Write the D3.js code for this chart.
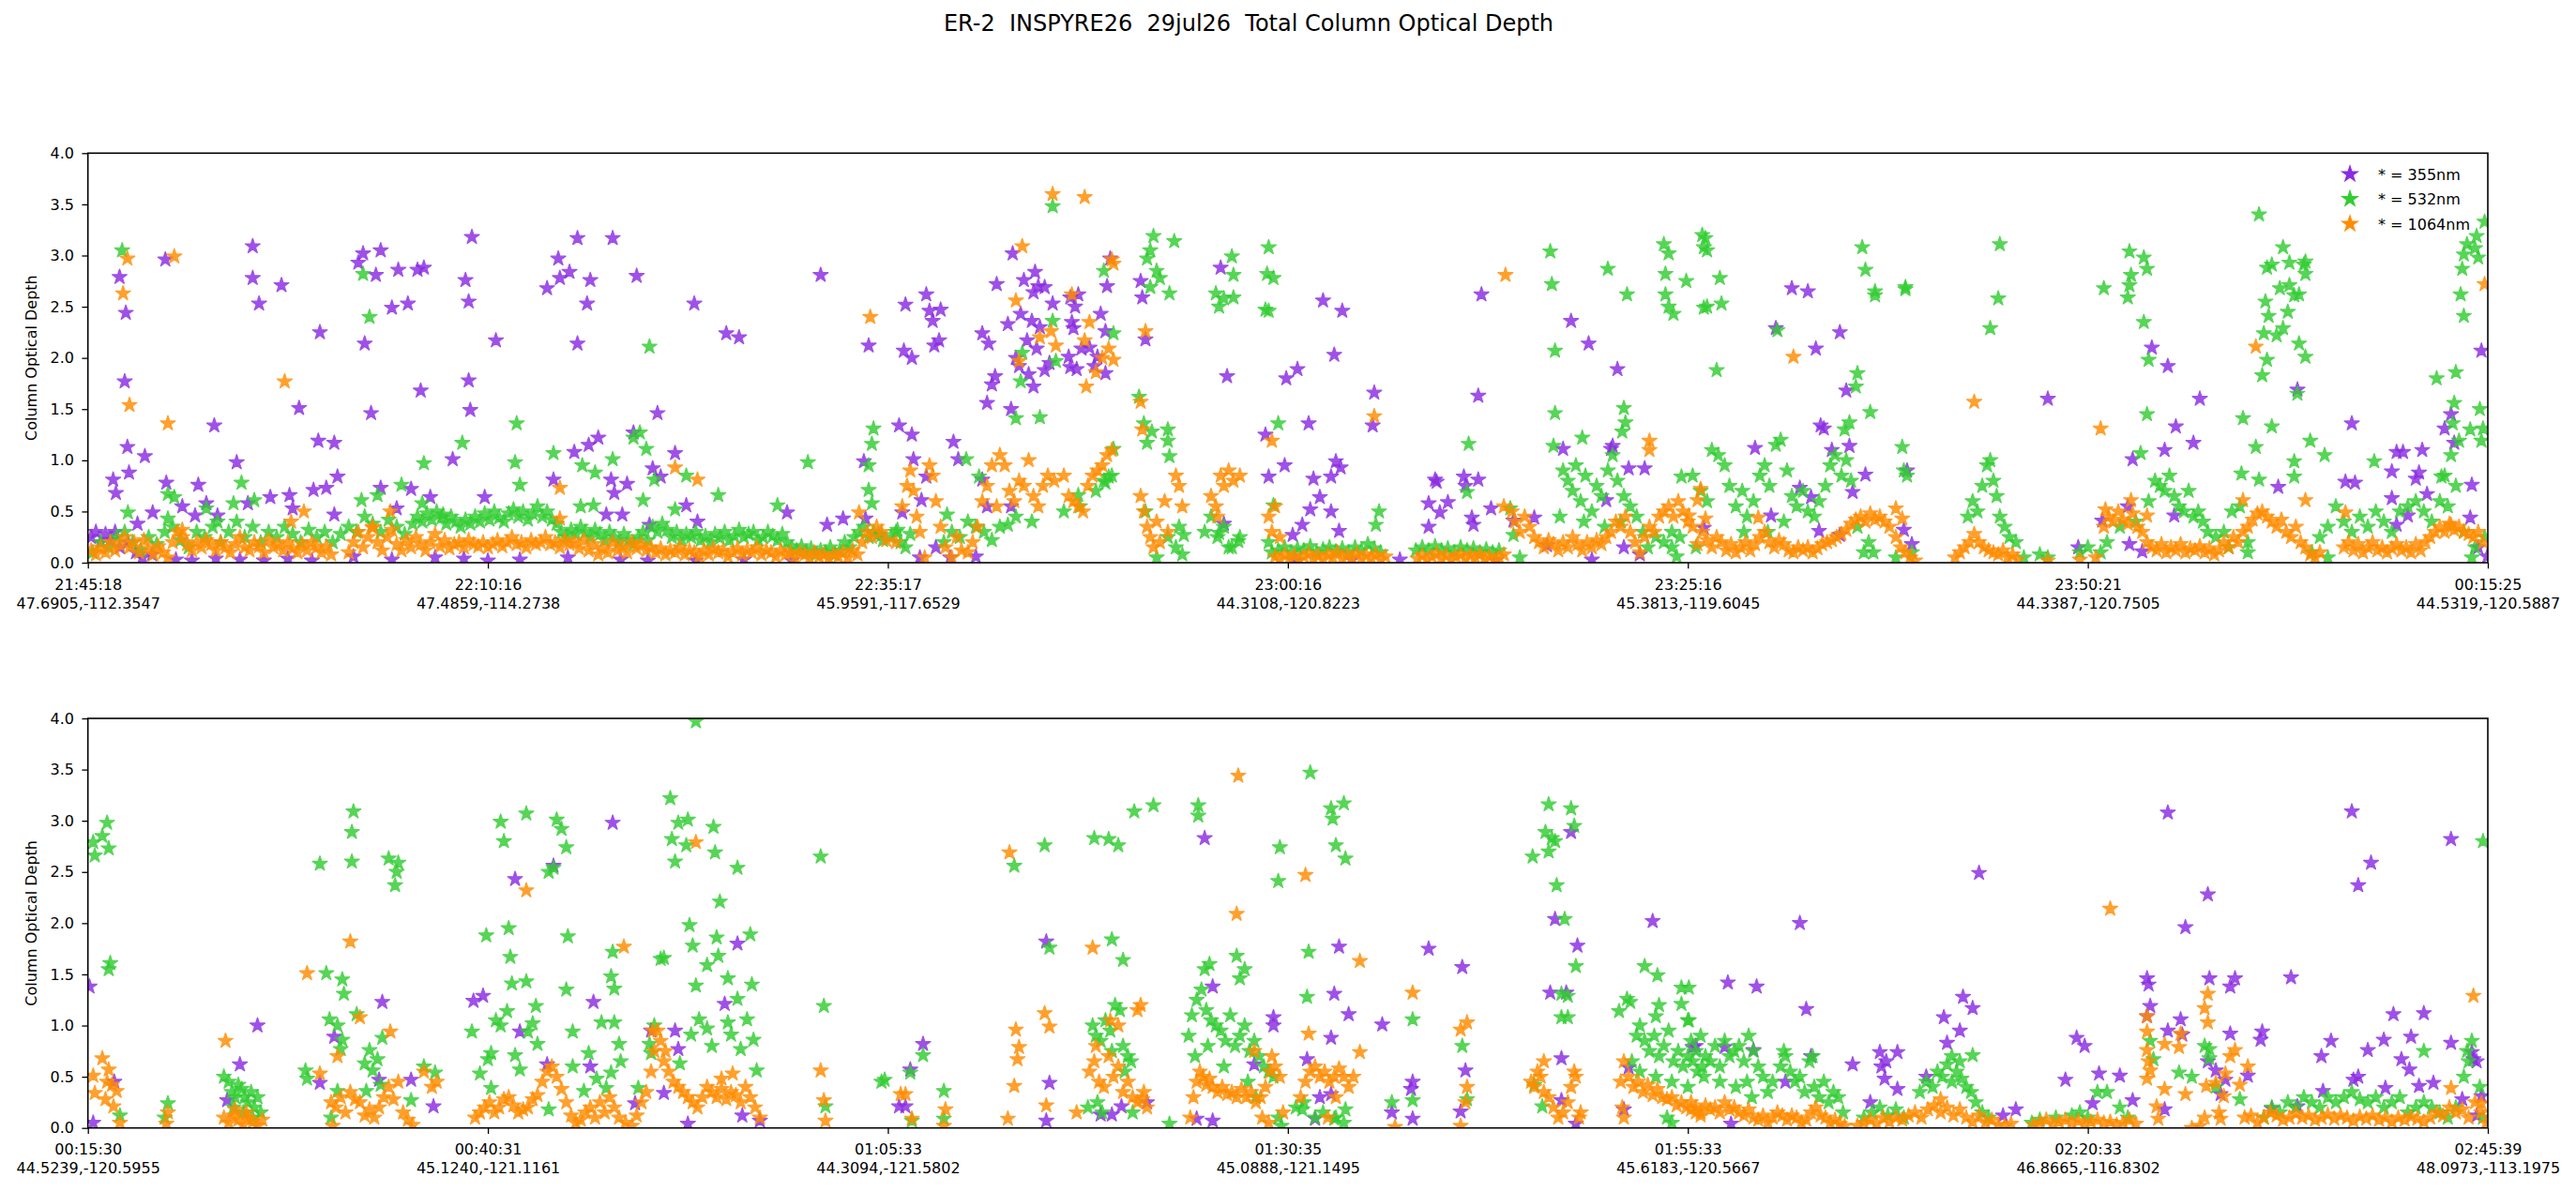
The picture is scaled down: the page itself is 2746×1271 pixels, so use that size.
<!DOCTYPE html>
<html>
<head>
<meta charset="utf-8">
<script src="https://cdn.jsdelivr.net/npm/d3@7"></script>
<style>
  body { margin: 0; background: #fff; }
  svg { display: block; font-family: "DejaVu Sans", sans-serif; }
</style>
</head>
<body>
<div id="chart"></div>
<script>
// minutes since panel start, column optical depth
const title = 'ER-2  INSPYRE26  29jul26  Total Column Optical Depth';
const wavelengths = ['* = 355nm', '* = 532nm', '* = 1064nm'];
const tickMinutes = [0, 25, 50, 75, 100, 125, 150];
const yTicks = [0, 0.5, 1, 1.5, 2, 2.5, 3, 3.5, 4];
const topTimes = ['21:45:18', '22:10:16', '22:35:17', '23:00:16', '23:25:16', '23:50:21', '00:15:25'];
const topCoords = ['47.6905,-112.3547', '47.4859,-114.2738', '45.9591,-117.6529', '44.3108,-120.8223', '45.3813,-119.6045', '44.3387,-120.7505', '44.5319,-120.5887'];
const botTimes = ['00:15:30', '00:40:31', '01:05:33', '01:30:35', '01:55:33', '02:20:33', '02:45:39'];
const botCoords = ['44.5239,-120.5955', '45.1240,-121.1161', '44.3094,-121.5802', '45.0888,-121.1495', '45.6183,-120.5667', '46.8665,-116.8302', '48.0973,-113.1975'];

const top355 = [
  [1.98,2.79],[2.37,2.44],[2.3,1.77],[2.47,1.13],[2.57,0.88],[1.58,0.81],[1.75,0.68],[4.84,2.96],[3.56,1.04],[7.9,1.34],
  [10.3,3.09],[10.3,2.78],[10.7,2.53],[12.1,2.71],[9.3,0.98],[13.2,1.51],[14.5,2.25],[14.4,1.19],[15.4,1.17],[15.6,0.84],
  [14.9,0.73],[14.1,0.71],[16.9,2.93],[17.2,3.02],[18.3,3.05],[18.0,2.81],[17.3,2.14],[17.7,1.46],[19.0,2.49],[20.0,2.53],
  [19.4,2.86],[20.6,2.86],[21.0,2.88],[20.8,1.68],[22.8,1.01],[23.6,2.76],[23.8,2.55],[24.0,3.18],[23.8,1.78],[23.9,1.49],
  [25.5,2.17],[24.8,0.64],[28.7,2.68],[29.4,2.97],[29.5,2.78],[30.1,2.84],[30.6,3.17],[31.4,2.76],[31.2,2.53],[30.6,2.14],
  [32.8,3.17],[34.3,2.8],[29.1,0.81],[30.4,1.08],[31.3,1.15],[31.9,1.22],[32.7,0.81],[32.9,0.68],[33.7,0.77],[34.1,1.27],
  [35.6,1.46],[36.7,1.07],[35.3,0.92],[35.8,0.84],[37.9,2.53],[39.9,2.24],[40.7,2.2],[37.4,0.56],[38.1,0.4],[43.7,0.49],
  [45.8,2.81],[46.2,0.37],[47.2,0.43],[48.5,0.99],[48.6,0.43],[48.8,2.12],
  [4.05,0.49],[4.9,0.78],[6.9,0.76],[5.9,0.55],[3.1,0.38],[7.4,0.58],[8.1,0.46],[11.4,0.64],[12.6,0.66],[12.8,0.53],
  [15.4,0.47],[18.3,0.73],[20.2,0.72],[21.4,0.64],[19.3,0.53],[6.7,0.46],[10.0,0.58],[32.4,0.47],[33.4,0.47],[35.1,0.37],
  [0.2,0.25],[0.5,0.3],[0.8,0.2],[1.1,0.28],[1.4,0.22],[1.7,0.3],[2.0,0.15],[2.5,0.2],[3.0,0.1],[3.4,0.05],[4.0,0.08],
  [5.5,0.03],[6.5,0.02],[8.0,0.04],[9.5,0.03],[11.0,0.02],[12.5,0.04],[14.0,0.02],[16.6,0.06],[19.0,0.03],[21.7,0.05],
  [23.5,0.04],[25.0,0.02],[27.0,0.03],[30.0,0.05],[33.3,0.03],[35.0,0.02],[38.0,0.02],[41.0,0.03],[44.0,0.02],
  [51.1,2.52],[52.4,2.62],[52.6,2.46],[52.8,2.36],[53.3,2.47],[53.2,2.17],[52.9,2.12],[51.0,2.07],[51.5,2.0],
  [50.7,1.34],[51.5,1.25],[54.1,1.18],[54.4,1.01],[51.6,1.01],[52.4,0.84],[50.9,0.49],[52.1,0.61],
  [55.9,2.24],[56.3,2.14],[56.8,2.72],[57.8,3.02],[58.5,2.76],[59.2,2.84],[59.4,2.7],[59.1,2.64],[59.8,2.69],[60.3,2.53],
  [57.5,2.33],[58.3,2.43],[59.0,2.36],[59.5,2.3],[58.7,2.17],[59.3,2.09],[58.0,2.0],[58.2,1.92],[58.8,1.84],[59.8,1.88],
  [60.1,1.95],[56.7,1.82],[56.5,1.74],[59.1,1.72],[56.2,1.56],[57.7,1.5],
  [61.4,2.59],[61.9,2.62],[61.7,2.5],[61.5,2.35],[61.6,2.29],[63.3,2.43],[63.6,2.26],[61.3,2.01],[62.1,2.09],[62.6,2.1],
  [63.1,2.01],[61.4,1.91],[61.8,1.89],[62.9,1.92],[63.6,1.85],[63.7,2.7],[63.9,2.97],[65.8,2.75],[65.9,2.59],[66.1,2.18],
  [70.8,2.88],[71.2,1.82],[73.6,1.25],[73.8,0.84],[74.8,0.95],[74.9,1.8],[75.6,1.89],[76.3,1.36],[77.2,2.56],[78.4,2.46],
  [77.9,2.03],[76.6,0.82],[77.0,0.64],[77.7,0.84],[78.0,0.99],[78.3,0.93],[80.4,1.66],[80.3,1.34],[76.4,0.52],[77.7,0.5],
  [75.9,0.37],[75.3,0.27],[78.2,0.31],[71.0,0.38],[53.9,0.05],[55.5,0.06],[56.2,0.55],[57.7,0.55],[55.9,0.81],
  [84.2,0.81],[84.3,0.79],[85.0,0.59],[86.0,0.84],[86.1,0.75],[86.9,0.81],[83.8,0.58],[84.5,0.49],[83.8,0.35],[86.5,0.44],
  [86.6,0.37],[87.7,0.53],[89.1,0.41],[90.4,0.44],[87.1,2.62],[86.9,1.63],[92.7,2.36],[93.8,2.14],[95.6,1.89],
  [92.2,1.11],[95.2,1.11],[95.3,1.14],[96.3,0.92],[97.3,0.92],[94.9,0.61],[91.2,0.17],[94.0,0.03],
  [52.0,0.05],[53.0,0.15],[75.5,0.02],[79.0,0.03],[82.0,0.03],[88.0,0.02],[96.0,0.15],[97.0,0.08],
  [106.5,2.68],[107.5,2.65],[105.5,2.29],[109.5,2.25],[108.0,2.09],[109.9,1.68],[108.3,1.34],[108.5,1.31],[104.2,1.12],
  [109.0,1.1],[110.1,1.14],[111.1,0.86],[113.7,0.9],[110.3,0.69],[107.0,0.73],[107.7,0.64],[105.2,0.46],[108.2,0.31],
  [101.0,0.34],[109.5,0.27],[113.5,0.32],[114.0,0.18],
  [122.5,1.6],[124.4,0.15],[125.9,0.41],[127.5,0.55],[127.6,0.18],[128.4,0.11],[127.8,1.01],[129.0,2.1],[130.0,1.92],
  [132.0,1.6],[130.5,1.33],[129.8,1.1],[131.6,1.17],[130.4,0.46],[136.9,0.74],[138.1,1.69],[141.5,1.36],[144.3,1.08],
  [144.7,1.08],[145.9,1.1],[141.1,0.79],[141.7,0.78],[144.0,0.89],[145.7,0.88],[145.5,0.82],[149.0,0.76],[147.7,1.45],
  [147.3,1.31],[147.9,1.17],[144.0,0.63],[146.2,0.67],[145.0,0.46],[149.6,2.07],[148.9,0.44],[144.3,0.37],[149.4,0.15],[149.96,0.06]
];

const top532 = [
  [2.14,3.05],[17.2,2.82],[17.6,2.4],[35.1,2.11],[26.8,1.36],[23.4,1.17],[21.0,0.97],[26.7,0.98],[29.1,1.07],[32.8,1.01],
  [34.5,1.27],[34.9,1.11],[34.1,1.22],[30.9,0.95],[31.7,0.88],[35.4,0.81],[37.4,0.85],[34.7,0.61],[39.4,0.66],[45.0,0.98],
  [49.1,1.31],[49.0,1.16],[48.8,0.95],[48.8,0.71],[49.0,0.58],
  [27.0,0.76],[9.6,0.78],[5.0,0.67],[5.4,0.64],[2.5,0.49],[5.0,0.43],[9.1,0.58],[10.4,0.61],[7.4,0.53],[8.1,0.4],
  [19.6,0.76],[18.1,0.66],[17.1,0.61],[20.9,0.58],[22.2,0.47],[30.8,0.55],[31.6,0.56],[43.1,0.56],[36.7,0.52],
  [0.3,0.1],[0.8,0.2],[1.3,0.15],[1.8,0.25],[2.3,0.3],[2.8,0.2],[3.3,0.12],[3.8,0.25],[4.3,0.18],[4.8,0.3],
  [5.3,0.35],[5.8,0.22],[6.3,0.15],[6.8,0.3],[7.3,0.25],[7.8,0.35],[8.3,0.2],[8.8,0.3],[9.3,0.4],[9.8,0.25],
  [10.3,0.35],[10.8,0.2],[11.3,0.3],[11.8,0.25],[12.3,0.35],[12.8,0.28],[13.3,0.2],[13.8,0.32],[14.3,0.25],[14.8,0.3],
  [15.3,0.2],[15.8,0.28],[16.3,0.35],[16.8,0.3],[17.3,0.45],[17.8,0.38],[18.3,0.3],[18.8,0.42],[19.3,0.35],[19.8,0.28],
  [20.3,0.38],[20.6,0.45],[20.9,0.4],[21.2,0.48],[21.5,0.42],[21.8,0.5],[22.1,0.44],[22.4,0.38],[22.7,0.45],[23.0,0.4],
  [23.3,0.35],[23.6,0.42],[23.9,0.38],[24.2,0.45],[24.5,0.4],[24.8,0.48],[25.1,0.42],[25.4,0.5],[25.7,0.44],[26.0,0.4],
  [26.3,0.48],[26.6,0.52],[26.9,0.45],[27.2,0.5],[27.5,0.42],[27.8,0.48],[28.1,0.55],[28.4,0.45],[28.7,0.5],[29.0,0.42],
  [29.3,0.38],[29.6,0.3],[29.9,0.25],[30.2,0.32],[30.5,0.28],[30.8,0.35],[31.1,0.3],[31.4,0.25],[31.7,0.32],[32.0,0.28],
  [32.3,0.22],[32.6,0.3],[32.9,0.25],[33.2,0.2],[33.5,0.28],[33.8,0.22],[34.1,0.18],[34.4,0.25],[34.7,0.3],[35.0,0.22],
  [35.3,0.35],[35.6,0.3],[35.9,0.38],[36.2,0.32],[36.5,0.25],[36.8,0.3],[37.1,0.22],[37.4,0.28],[37.7,0.25],[38.0,0.3],
  [38.3,0.22],[38.6,0.26],[38.9,0.2],[39.2,0.28],[39.5,0.24],[39.8,0.3],[40.1,0.22],[40.4,0.26],[40.7,0.32],[41.0,0.25],
  [41.3,0.28],[41.6,0.3],[41.9,0.22],[42.2,0.25],[42.5,0.3],[42.8,0.26],[43.1,0.22],[43.4,0.28],[43.7,0.2],[44.0,0.15],
  [44.3,0.12],[44.6,0.16],[44.9,0.1],[45.2,0.14],[45.5,0.08],[45.8,0.12],[46.1,0.1],[46.4,0.15],[46.7,0.08],[47.0,0.12],
  [47.3,0.2],[47.6,0.15],[47.9,0.25],[48.2,0.3],[48.5,0.35],[48.8,0.25],[49.1,0.3],[49.4,0.28],[49.7,0.22],
  [60.3,3.48],[66.6,3.19],[67.9,3.14],[66.4,3.05],[66.2,2.97],[66.8,2.85],[67.0,2.78],[66.4,2.69],[67.6,2.63],[63.5,2.85],
  [71.5,2.99],[71.6,2.81],[73.8,3.08],[73.7,2.82],[74.1,2.78],[70.5,2.63],[71.0,2.58],[71.6,2.59],[70.7,2.5],[73.6,2.47],
  [73.8,2.46],[60.3,2.36],[64.1,2.24],[60.5,1.97],[58.4,2.05],[58.3,1.77],[58.0,1.41],[59.5,1.42],[65.7,1.62],
  [66.0,1.36],[66.5,1.28],[67.5,1.3],[66.2,1.17],[67.5,1.19],[67.6,1.04],[64.1,1.11],[63.8,0.84],[63.6,0.78],[74.4,1.36],
  [54.9,1.01],[55.7,0.84],[66.1,0.5],[68.5,0.27],[68.4,0.08],[70.7,0.29],[71.3,0.15],[71.9,0.21],[74.1,0.56],[80.7,0.5],
  [80.5,0.37],[50.6,0.32],[49.6,0.27],[53.7,0.47],[57.5,0.37],[61.9,0.66],
  [86.3,1.16],[86.2,0.69],[88.9,0.53],[89.1,0.27],[91.4,3.04],[91.5,2.72],[91.7,2.07],[91.7,1.46],[91.6,1.14],[93.4,1.22],
  [95.0,2.87],[96.0,1.51],[96.1,1.37],[95.9,1.28],[96.2,2.62],[98.5,3.11],[98.8,3.02],[98.6,2.82],[99.9,2.75],[98.6,2.62],
  [98.8,2.5],[99.1,2.43],[100.9,3.2],[101.0,3.08],[101.0,2.49],
  [92.2,0.9],[92.5,0.8],[92.8,0.7],[93.0,0.95],[93.3,0.6],[93.6,0.85],[94.0,0.5],[94.3,0.75],[94.6,0.65],[95.0,0.9],
  [95.3,1.05],[95.6,0.8],[96.0,0.65],[96.4,0.55],[96.8,0.45],[94.8,0.35],[92.0,0.45],[97.2,0.3],[93.5,0.4],[95.8,0.4],
  [99.6,0.84],[99.0,0.15],[99.3,0.06],
  [74.0,0.1],[74.4,0.12],[74.8,0.15],[75.2,0.1],[75.6,0.14],[76.0,0.12],[76.4,0.16],[76.8,0.1],[77.2,0.13],[77.6,0.15],
  [78.0,0.11],[78.4,0.14],[78.8,0.1],[79.2,0.15],[79.6,0.12],[80.0,0.18],[80.4,0.14],[80.8,0.1],[83.0,0.12],[83.4,0.15],
  [83.8,0.12],[84.2,0.16],[84.6,0.12],[85.0,0.14],[85.4,0.1],[85.8,0.15],[86.2,0.12],[86.6,0.14],[87.0,0.1],[87.4,0.13],
  [87.8,0.1],[88.2,0.12],
  [50.2,0.25],[50.5,0.3],[50.8,0.2],[51.1,0.15],[51.4,0.28],[53.5,0.2],[54.0,0.3],[54.5,0.25],[55.0,0.4],[55.5,0.35],
  [56.0,0.3],[56.5,0.22],[57.0,0.35],[58.0,0.45],[59.0,0.4],[61.0,0.5],[62.0,0.55],[63.0,0.7],[63.5,0.8],[64.0,0.85],
  [66.8,0.05],[67.5,0.25],[68.2,0.35],[68.0,0.15],[69.8,0.3],[70.2,0.45],[70.6,0.25],[71.0,0.35],[71.5,0.15],[72.0,0.25],
  [73.8,0.2],[89.5,0.05],[97.5,0.15],[98.0,0.25],[98.5,0.2],[99.0,0.3],[99.5,0.25],[100.5,0.15],
  [101.1,3.17],[101.2,3.05],[102.0,2.78],[101.2,2.5],[102.1,2.53],[101.8,1.88],[110.9,3.08],[111.1,2.86],[111.7,2.65],
  [111.7,2.61],[113.6,2.69],[113.6,2.67],[119.5,3.11],[119.4,2.58],[118.9,2.29],[105.6,2.27],[110.6,1.85],[110.5,1.72],
  [111.4,1.47],[110.1,1.37],[109.8,1.3],[113.4,1.13],
  [127.6,3.04],[128.5,2.98],[128.7,2.87],[127.7,2.81],[127.6,2.71],[126.0,2.68],[127.5,2.59],[128.5,2.35],[128.8,1.98],
  [128.7,1.45],[128.3,1.07],
  [135.7,3.4],[137.2,3.08],[136.2,2.88],[136.5,2.91],[137.6,2.93],[138.5,2.91],[138.6,2.94],[138.6,2.82],[137.0,2.68],
  [137.6,2.71],[137.9,2.61],[138.2,2.62],[136.1,2.55],[137.5,2.45],[136.3,2.41],[137.2,2.29],[136.0,2.24],[136.8,2.22],
  [138.2,2.14],[138.6,2.01],[136.2,1.98],[135.9,1.83],[138.1,1.65],[134.7,1.41],[136.5,1.33],[138.9,1.19],[139.8,1.05],
  [135.5,1.13],[137.9,0.99],[137.9,0.84],[134.6,0.87],[135.7,0.81],[142.9,0.99],
  [149.8,3.33],[149.3,3.19],[148.7,3.11],[149.2,3.07],[148.5,3.01],[149.4,2.98],[148.4,2.87],[148.3,2.62],[148.5,2.41],
  [148.0,1.86],[146.8,1.8],[147.9,1.56],[149.5,1.5],[147.8,1.36],[148.9,1.3],[149.7,1.31],[148.2,1.19],[149.6,1.19],
  [147.7,1.05],[147.3,0.85],[147.1,0.84],
  [100.3,0.85],[100.8,0.7],[101.2,0.6],[101.5,1.1],[101.9,1.05],[102.3,0.95],[102.6,0.75],[103.0,0.55],[103.4,0.7],
  [103.7,0.45],[104.1,0.6],[104.5,0.85],[104.8,0.95],[105.1,0.75],[105.5,1.15],[105.8,1.2],[106.2,0.9],[106.5,0.65],
  [106.8,0.55],[107.2,0.7],[107.5,0.5],[107.9,0.45],[108.2,0.6],[108.6,0.75],[108.9,0.95],[109.2,1.05],[109.6,0.85],
  [109.9,1.0],[110.2,0.8],[110.6,0.35],[111.0,0.1],[103.5,0.3],[105.0,0.3],[106.0,0.4],[113.5,0.9],[113.7,0.85],
  [117.5,0.45],[117.8,0.6],[118.1,0.5],[118.4,0.75],[118.7,0.95],[118.9,1.0],[119.1,0.8],[119.3,0.65],[119.5,0.45],
  [119.8,0.35],[120.1,0.25],[120.5,0.2],[122.5,0.05],
  [125.8,0.1],[126.2,0.2],[127.0,0.35],[128.0,0.4],[128.8,0.6],[129.2,0.8],[129.5,0.75],[129.8,0.7],[130.1,0.85],
  [130.4,0.65],[130.7,0.55],[131.0,0.5],[131.3,0.7],[131.6,0.45],[131.9,0.5],[132.2,0.4],[132.5,0.3],[133.0,0.25],
  [133.5,0.3],[134.0,0.5],[134.5,0.55],[135.0,0.2],
  [139.5,0.25],[140.0,0.35],[140.5,0.55],[141.0,0.4],[141.5,0.3],[142.0,0.45],[142.5,0.35],[143.0,0.5],[143.5,0.4],
  [144.0,0.3],[144.5,0.5],[145.0,0.55],[145.5,0.6],[146.0,0.5],[146.5,0.4],[147.0,0.6],[147.5,0.55],[148.0,0.75],[149.0,0.05],
  [111.3,0.2],[111.6,0.1],[113.0,0.05],[114.0,0.1],[121.0,0.05],[122.0,0.08],[124.5,0.1],[125.0,0.15],[133.8,0.15],
  [135.0,0.1],[139.0,0.1],[140.0,0.05],[148.5,0.3],[149.2,0.15],[149.8,0.25]
];

const top1064 = [
  [2.47,2.97],[5.4,2.99],[2.2,2.63],[2.6,1.54],[5.0,1.36],[12.3,1.77],[48.9,2.4],
  [13.5,0.5],[29.5,0.73],[36.7,0.93],[38.1,0.81],[48.2,0.49],[18.9,0.5],[17.8,0.34],[29.5,0.43],[12.7,0.4],[5.9,0.32],
  [0.2,0.12],[0.5,0.08],[0.8,0.15],[1.1,0.1],[1.4,0.2],[1.7,0.12],[2.0,0.18],[2.3,0.25],[2.6,0.15],[2.9,0.2],
  [3.2,0.1],[3.5,0.22],[3.8,0.14],[4.1,0.08],[4.4,0.16],[4.7,0.1],[5.0,0.05],[5.3,0.2],[5.6,0.3],[5.9,0.25],
  [6.2,0.18],[6.5,0.12],[6.8,0.2],[7.1,0.15],[7.4,0.22],[7.7,0.18],[8.0,0.12],[8.3,0.2],[8.6,0.15],[8.9,0.1],
  [9.2,0.18],[9.5,0.25],[9.8,0.15],[10.1,0.12],[10.4,0.2],[10.7,0.16],[11.0,0.1],[11.3,0.22],[11.6,0.15],[11.9,0.18],
  [12.2,0.12],[12.5,0.2],[12.8,0.14],[13.1,0.1],[13.4,0.18],[13.7,0.12],[14.0,0.2],[14.3,0.15],[14.6,0.1],[14.9,0.16],
  [15.2,0.08],[16.3,0.1],[16.6,0.2],[16.9,0.3],[17.2,0.15],[17.5,0.25],[17.8,0.35],[18.1,0.2],[18.4,0.12],[18.7,0.25],
  [19.0,0.32],[19.3,0.18],[19.6,0.12],[19.9,0.22],[20.2,0.15],[20.5,0.25],[20.8,0.18],[21.1,0.12],[21.4,0.2],[21.7,0.28],
  [22.0,0.16],[22.3,0.22],[22.6,0.14],[22.9,0.18],[23.2,0.2],[23.5,0.15],[23.8,0.22],[24.1,0.18],[24.4,0.16],[24.7,0.2],
  [25.0,0.15],[25.3,0.18],[25.6,0.22],[25.9,0.16],[26.2,0.2],[26.5,0.25],[26.8,0.18],[27.1,0.2],[27.4,0.15],[27.7,0.22],
  [28.0,0.18],[28.3,0.2],[28.6,0.25],[28.9,0.18],[29.2,0.2],[29.5,0.15],[29.8,0.22],[30.1,0.18],[30.4,0.2],[30.7,0.14],
  [31.0,0.22],[31.3,0.12],[31.6,0.18],[31.9,0.08],[32.2,0.15],[32.5,0.1],[32.8,0.2],[33.1,0.12],[33.4,0.16],[33.7,0.1],
  [34.0,0.2],[34.3,0.14],[34.6,0.18],[34.9,0.12],[35.2,0.15],[35.5,0.1],[35.8,0.14],[36.1,0.08],[36.4,0.12],[36.7,0.1],
  [37.0,0.15],[37.3,0.08],[37.6,0.12],[37.9,0.1],[38.2,0.06],[38.5,0.12],[38.8,0.08],[39.1,0.14],[39.4,0.1],[39.7,0.12],
  [40.0,0.06],[40.3,0.1],[40.6,0.14],[40.9,0.08],[41.2,0.12],[41.5,0.1],[41.8,0.15],[42.1,0.08],[42.4,0.12],[42.7,0.1],
  [43.0,0.06],[43.3,0.12],[43.6,0.08],[43.9,0.1],[44.2,0.05],[44.5,0.1],[44.8,0.08],[45.1,0.04],[45.4,0.1],[45.7,0.06],
  [46.0,0.08],[46.3,0.04],[46.6,0.08],[46.9,0.06],[47.2,0.1],[47.5,0.05],[47.8,0.12],[48.1,0.08],[48.4,0.2],[48.7,0.3],
  [49.0,0.25],[49.3,0.35],[49.6,0.3],[49.9,0.22],
  [60.3,3.6],[62.3,3.57],[58.4,3.09],[64.0,2.96],[64.1,2.92],[58.0,2.56],[61.5,2.62],[62.6,2.35],[66.1,2.26],[60.2,2.26],
  [59.5,2.2],[60.5,2.12],[62.3,2.17],[63.8,2.09],[63.4,2.0],[64.1,1.98],[58.2,1.97],[63.0,1.86],[62.4,1.72],[88.6,2.81],
  [65.8,1.57],[65.9,1.3],[80.4,1.43],[74.0,1.19],[97.6,1.19],[97.6,1.1],
  [50.5,0.2],[50.9,0.55],[51.2,0.75],[51.4,0.9],[51.6,0.7],[51.8,0.45],[52.0,0.3],[52.3,0.05],[52.6,0.95],[52.8,0.85],
  [53.0,0.6],[53.3,0.35],[53.6,0.15],[54.0,0.05],[54.3,0.25],[54.6,0.12],[55.0,0.1],[55.3,0.2],[55.6,0.35],[55.9,0.6],
  [56.2,0.75],[56.5,0.95],[56.8,0.55],[57.0,1.05],[57.3,0.95],[57.6,0.7],[57.9,0.6],[58.2,0.8],[58.5,0.75],[58.8,1.0],
  [59.1,0.65],[59.4,0.55],[59.7,0.75],[60.0,0.85],[60.4,0.8],[61.0,0.85],[61.3,0.65],[61.6,0.6],[61.9,0.55],[62.2,0.5],
  [62.5,0.75],[62.8,0.85],[63.1,0.9],[63.4,0.95],[63.7,1.05],[64.0,1.1],
  [65.8,0.65],[66.0,0.5],[66.2,0.35],[66.4,0.25],[66.6,0.15],[66.8,0.4],[67.0,0.2],[67.3,0.6],[67.5,0.3],[68.0,0.85],
  [68.2,0.75],[68.4,0.55],[70.2,0.65],[70.5,0.55],[70.8,0.85],[71.0,0.75],[71.3,0.9],[71.6,0.8],[72.0,0.85],[70.6,0.45],
  [73.8,0.45],[74.0,0.3],[74.2,0.55],[74.5,0.25],
  [74.2,0.06],[74.5,0.03],[74.8,0.08],[75.1,0.04],[75.4,0.07],[75.7,0.03],[76.0,0.06],[76.3,0.09],[76.6,0.04],[76.9,0.07],
  [77.2,0.03],[77.5,0.08],[77.8,0.05],[78.1,0.1],[78.4,0.04],[78.7,0.07],[79.0,0.05],[79.3,0.09],[79.6,0.04],[79.9,0.07],
  [80.2,0.05],[80.5,0.08],[80.8,0.03],[81.1,0.06],
  [83.1,0.04],[83.4,0.07],[83.7,0.03],[84.0,0.06],[84.3,0.09],[84.6,0.04],[84.9,0.07],[85.2,0.03],[85.5,0.06],[85.8,0.08],
  [86.1,0.04],[86.4,0.07],[86.7,0.05],[87.0,0.08],[87.3,0.04],[87.6,0.06],[87.9,0.03],[88.2,0.05],[88.5,0.08],
  [88.5,0.55],[89.0,0.5],[89.2,0.4],
  [89.5,0.3],[89.8,0.45],[90.1,0.35],[90.4,0.25],[90.7,0.2],[91.0,0.15],[91.3,0.22],[91.6,0.18],[91.9,0.12],[92.2,0.2],
  [92.5,0.15],[92.8,0.25],[93.1,0.18],[93.4,0.12],[93.7,0.2],[94.0,0.15],[94.3,0.22],[94.6,0.18],[94.9,0.25],[95.2,0.3],
  [95.5,0.4],[95.8,0.35],[96.1,0.45],[96.4,0.3],[96.7,0.2],[97.0,0.1],[97.3,0.25],[97.6,0.35],[97.9,0.3],[98.2,0.45],
  [98.5,0.5],[98.8,0.55],[99.1,0.45],[99.4,0.6],[99.7,0.5],[100.0,0.4],[100.3,0.35],
  [149.8,2.72],[135.5,2.11],[106.6,2.01],[117.9,1.57],[125.8,1.31],
  [100.8,0.72],[100.6,0.61],[100.06,0.46],[101.1,0.43],[104.4,0.44],[113.0,0.53],[113.4,0.43],[126.1,0.52],[127.7,0.61],
  [128.7,0.46],[134.7,0.61],[138.6,0.61],[141.1,0.49],[147.7,0.37],
  [100.6,0.18],[100.9,0.3],[101.2,0.22],[101.5,0.15],[101.8,0.25],[102.1,0.2],[102.4,0.12],[102.7,0.18],[103.0,0.1],
  [103.3,0.15],[103.6,0.2],[103.9,0.12],[104.2,0.18],[104.5,0.25],[104.8,0.3],[105.1,0.2],[105.4,0.15],[105.7,0.22],
  [106.0,0.18],[106.3,0.12],[106.6,0.1],[106.9,0.15],[107.2,0.12],[107.5,0.15],[107.8,0.1],[108.1,0.14],[108.4,0.18],
  [108.7,0.2],[109.0,0.22],[109.3,0.25],[109.6,0.28],[109.9,0.32],[110.2,0.38],[110.5,0.42],[110.8,0.45],[111.1,0.4],
  [111.4,0.48],[111.7,0.42],[112.0,0.45],[112.3,0.4],[112.6,0.35],[113.0,0.25],[113.3,0.15],[113.6,0.1],[113.9,0.05],
  [114.2,0.02],[116.7,0.05],[117.0,0.1],[117.3,0.15],[117.6,0.2],[117.9,0.28],[118.2,0.2],[118.5,0.15],[118.8,0.12],
  [119.1,0.1],[119.4,0.08],[119.7,0.12],[120.0,0.05],[120.3,0.08],[120.6,0.03],[122.5,0.02],[124.5,0.03],[125.5,0.05],
  [126.0,0.35],[126.3,0.45],[126.6,0.4],[126.9,0.5],[127.2,0.42],[127.5,0.38],[127.8,0.48],[128.1,0.35],[128.4,0.3],
  [128.7,0.2],[129.0,0.15],[129.3,0.12],[129.6,0.18],[129.9,0.1],[130.2,0.15],[130.5,0.12],[130.8,0.18],[131.1,0.1],
  [131.4,0.14],[131.7,0.12],[132.0,0.16],[132.3,0.1],[132.6,0.14],[132.9,0.08],[133.2,0.12],[133.5,0.2],[133.8,0.15],
  [134.1,0.25],[134.4,0.2],[134.7,0.3],[135.0,0.35],[135.3,0.42],[135.6,0.48],[135.9,0.5],[136.2,0.45],[136.5,0.4],
  [136.8,0.35],[137.1,0.42],[137.4,0.3],[137.7,0.25],[138.0,0.35],[138.3,0.2],[138.6,0.15],[138.9,0.08],[139.2,0.05],
  [139.5,0.1],[141.0,0.15],[141.3,0.2],[141.6,0.12],[141.9,0.18],[142.2,0.1],[142.5,0.15],[142.8,0.2],[143.1,0.12],
  [143.4,0.15],[143.7,0.1],[144.0,0.14],[144.3,0.18],[144.6,0.12],[144.9,0.15],[145.2,0.1],[145.5,0.18],[145.8,0.12],
  [146.1,0.2],[146.4,0.25],[146.7,0.3],[147.0,0.35],[147.3,0.3],[147.6,0.38],[147.9,0.32],[148.2,0.35],[148.5,0.3],
  [148.8,0.28],[149.1,0.25],[149.4,0.3],[149.7,0.2]
];

const bot355 = [
  [0.1,1.38],[0.33,0.05],[1.65,0.45],[10.6,1.0],[9.5,0.62],[18.4,1.23],[15.4,0.89],[14.5,0.44],[18.2,0.47],[20.2,0.47],
  [21.6,0.21],[26.7,2.43],[29.1,2.56],[32.8,2.98],[24.1,1.24],[24.7,1.29],[31.6,1.23],[27.0,0.94],[28.7,0.62],[40.6,1.8],
  [39.8,1.21],[36.7,0.95],[36.9,0.77],[35.2,0.95],[36.0,0.34],[34.2,0.24],[37.5,0.04],[40.9,0.12],[31.4,0.6],[42.0,0.07],
  [8.7,0.27],[50.7,0.21],
  [52.2,0.82],[51.4,0.57],[51.1,0.21],[59.9,1.82],[60.1,0.44],[59.9,0.07],[63.3,0.13],[64.0,0.13],[64.6,0.21],[66.2,0.25],
  [69.8,2.83],[70.3,1.38],[70.3,0.07],[69.3,0.09],[74.1,1.08],[74.1,1.0],[72.9,0.62],[76.2,0.67],[78.2,1.77],[77.9,1.31],
  [78.8,1.11],[77.7,0.88],[77.0,0.3],[77.7,0.33],[76.7,0.09],[80.9,1.01],[83.8,1.75],[85.9,1.57],[82.8,0.45],[82.7,0.38],
  [86.1,0.56],[81.5,0.15],[82.8,0.09],[85.8,0.16],[91.7,2.04],[92.7,2.89],[93.1,1.78],[91.4,1.32],[92.4,1.32],[92.1,0.68],
  [92.1,0.27],[93.0,0.04],[97.8,2.02],[96.3,0.59],[100.5,0.8],[96.0,0.18],
  [130.0,3.08],[141.5,3.09],[147.7,2.82],[142.7,2.59],[141.9,2.37],[118.2,2.49],[132.5,2.28],[131.1,1.96],[107.0,2.0],
  [102.5,1.42],[104.3,1.38],[107.4,1.16],[117.2,1.28],[117.8,1.17],[116.0,1.08],[117.0,0.95],[116.2,0.83],[128.7,1.46],
  [128.8,1.4],[128.9,1.19],[128.7,1.09],[132.6,1.46],[133.9,1.38],[134.2,1.46],[137.7,1.47],[130.8,1.06],[130.0,0.95],
  [133.9,0.92],[135.9,0.94],[135.8,0.86],[124.3,0.88],[124.8,0.8],[140.2,0.85],[144.1,1.11],[146.0,1.12],[143.5,0.86],
  [145.2,0.89],[142.5,0.76],[139.6,0.7],[144.6,0.67],[145.1,0.57],[147.7,0.83],[149.0,0.74],[149.3,0.65],[149.1,0.67],
  [123.6,0.47],[125.7,0.53],[127.0,0.51],[127.8,0.27],[125.3,0.24],[120.5,0.18],[119.7,0.12],[112.0,0.74],[113.1,0.74],
  [112.1,0.6],[112.4,0.65],[112.3,0.48],[113.1,0.38],[110.3,0.62],[111.4,0.25],[114.9,0.5],[107.7,0.7],[104.1,0.76],
  [102.3,0.79],[100.3,0.79],[106.1,0.45],[129.8,0.18],[130.9,0.91],[132.5,0.65],[133.0,0.56],[133.6,0.47],[135.0,0.51],
  [133.3,0.33],[139.7,0.36],[141.6,0.47],[141.9,0.5],[143.6,0.39],[145.7,0.41],[146.6,0.44],[148.4,0.28],[149.3,0.12],
  [136.5,0.19],[138.1,0.21],[102.7,0.04],[149.6,0.31]
];

const bot532 = [
  [0.43,2.66],[0.33,2.79],[0.9,2.85],[1.2,2.98],[1.3,2.73],[1.4,1.61],[1.3,1.55],[2.0,0.12],[5.0,0.24],[4.8,0.1],
  [8.5,0.5],[8.8,0.45],[9.0,0.35],[9.2,0.3],[9.4,0.42],[9.6,0.38],[9.8,0.3],[10.0,0.25],[10.2,0.35],[10.4,0.2],
  [10.6,0.3],[10.8,0.15],[9.1,0.2],[9.7,0.15],[10.3,0.1],
  [16.6,3.09],[16.5,2.89],[16.5,2.6],[14.5,2.58],[18.8,2.63],[19.4,2.59],[19.3,2.5],[19.2,2.37],
  [14.9,1.51],[15.9,1.45],[16.0,1.31],[15.1,1.06],[15.6,1.0],[16.8,1.11],[13.6,0.56],[13.7,0.48],[15.9,0.86],[15.8,0.77],
  [15.6,0.36],[18.4,0.88],[17.3,0.63],[17.6,0.76],[18.1,0.67],[17.8,0.56],[18.3,0.42],[17.4,0.36],[20.2,0.27],[21.0,0.6],
  [21.7,0.54],[15.2,0.1],
  [25.8,2.99],[26.0,2.8],[27.4,3.07],[29.3,3.01],[29.6,2.92],[29.9,2.74],[28.8,2.5],[29.1,2.54],
  [24.9,1.88],[26.3,1.95],[26.4,1.67],[30.0,1.87],[26.5,1.41],[27.4,1.43],[29.9,1.35],[26.2,1.14],[28.0,1.19],[25.5,1.05],
  [25.8,1.0],[27.8,1.02],[27.5,0.94],[24.0,0.94],[28.1,0.82],[26.7,0.71],[25.0,0.67],[25.2,0.73],[27.0,0.57],[24.5,0.53],
  [25.2,0.39],[30.3,0.94],[30.3,0.6],[31.3,0.73],[32.1,1.03],[32.9,1.03],[33.2,0.82],[33.3,0.65],[32.7,0.54],[31.8,0.48],
  [31.0,0.36],[32.4,0.39],[28.8,0.18],
  [32.7,1.48],[32.9,1.36],[32.8,1.72],[35.8,1.65],[36.0,1.66],[36.4,3.22],[36.9,2.98],[37.5,3.01],[36.5,2.82],[37.4,2.76],
  [36.7,2.6],[39.1,2.94],[39.2,2.69],[40.6,2.54],[39.5,2.21],[38.0,3.97],[37.6,1.98],[37.8,1.78],[39.3,1.86],[41.4,1.89],
  [38.7,1.59],[39.4,1.68],[38.0,1.39],[40.0,1.46],[41.5,1.4],[40.6,1.26],[38.2,1.06],[40.0,1.03],[41.2,1.06],[38.7,0.97],
  [39.0,0.8],[40.2,0.91],[40.8,0.77],[41.6,0.86],[41.8,0.56],[37.7,0.91],[35.4,1.0],[35.1,0.82],[35.2,0.73],[37.0,0.63],
  [34.4,0.39],[45.8,2.65],[46.0,1.19],[49.6,0.45],[46.1,0.21],
  [49.8,0.47],[51.4,0.54],[52.2,0.71],[53.5,0.36],[53.5,0.09],[51.5,0.07],
  [57.9,2.56],[59.8,2.76],[62.9,2.83],[63.8,2.82],[64.4,2.76],[65.4,3.09],[66.6,3.15],[69.4,3.15],[69.4,3.05],[76.4,3.47],
  [77.7,3.12],[78.5,3.17],[77.8,3.02],[74.5,2.74],[78.0,2.76],[78.6,2.63],[74.4,2.41],
  [60.1,1.76],[64.0,1.84],[64.7,1.64],[71.8,1.68],[72.3,1.55],[72.0,1.46],[70.1,1.6],[69.8,1.55],[76.3,1.72],[76.2,1.28],
  [82.8,1.06],[85.9,0.8],[86.2,0.28],[81.5,0.25],[82.8,0.27],[75.9,0.18],[78.6,0.18],[77.9,0.09],[67.6,0.04],
  [62.8,1.0],[63.0,0.9],[63.3,0.85],[63.6,1.05],[63.9,0.95],[64.2,1.2],[64.5,1.15],[64.7,0.8],[65.0,0.7],[65.2,0.65],
  [63.1,0.25],[63.4,0.15],[64.0,0.75],[64.8,0.55],[65.3,0.15],[62.5,0.2],
  [68.8,0.9],[69.0,1.1],[69.3,1.25],[69.6,1.35],[69.9,1.15],[70.2,1.05],[70.5,1.0],[70.8,0.95],[71.1,0.85],[71.4,1.1],
  [71.7,0.8],[72.0,0.9],[72.3,1.0],[72.6,0.75],[72.9,0.85],[73.2,0.7],[73.5,0.6],[73.8,0.55],[74.1,0.5],[74.4,0.1],
  [69.2,0.7],[70.0,0.8],[71.0,0.6],[72.5,0.45],[73.0,0.3],[74.6,0.02],
  [75.5,0.2],[76.0,0.25],[76.7,0.1],[77.2,0.15],[78.0,0.1],[78.5,0.05],
  [91.3,3.16],[92.7,3.12],[92.9,2.95],[91.1,2.89],[91.5,2.83],[91.7,2.8],[90.3,2.65],[91.3,2.7],[91.8,2.37],[92.3,2.04],
  [93.0,1.58],[92.1,1.31],[92.5,1.29],[92.1,1.08],[92.5,1.08],[90.9,0.21],[90.4,0.42],
  [97.3,1.58],[98.1,1.49],[99.6,1.37],[96.2,1.26],[96.4,1.23],[95.7,1.14],[98.2,1.2],[98.0,1.09],[99.6,1.21],[100.0,1.05],
  [96.8,0.9],[97.0,1.0],[97.3,0.85],[97.6,0.75],[97.9,0.9],[98.2,0.7],[98.5,0.8],[98.8,0.95],[99.1,0.65],[99.4,0.75],
  [99.7,0.6],[100.0,0.7],[100.3,0.65],[100.6,0.55],[100.9,0.6],[96.5,0.65],[97.0,0.55],[98.0,0.5],[99.0,0.45],[100.0,0.4],
  [99.0,0.05],[98.7,0.1],
  [149.7,2.8],[100.06,1.37],[100.06,1.05],
  [100.2,0.85],[100.5,0.75],[100.8,0.9],[101.1,0.7],[101.4,0.65],[101.7,0.8],[102.0,0.6],[102.3,0.85],[102.6,0.7],[102.9,0.75],
  [103.2,0.8],[103.5,0.65],[103.8,0.9],[104.1,0.75],[104.4,0.6],[104.7,0.5],[105.0,0.35],[105.3,0.45],[101.0,0.5],[102.0,0.45],
  [103.0,0.4],[103.7,0.45],[104.0,0.3],
  [105.8,0.6],[106.1,0.7],[106.4,0.55],[106.7,0.45],[107.0,0.5],[107.3,0.35],[107.6,0.65],[107.9,0.4],[108.2,0.3],[108.5,0.45],
  [108.8,0.25],[109.1,0.35],[109.4,0.3],[109.7,0.15],[106.0,0.75],[107.8,0.7],
  [111.0,0.1],[111.5,0.15],[112.0,0.2],[112.5,0.12],[113.0,0.18],[113.5,0.1],
  [117.8,0.71],[114.5,0.35],[114.9,0.45],[115.3,0.4],[115.6,0.55],[115.9,0.5],[116.2,0.62],[116.5,0.45],[116.8,0.55],
  [117.1,0.48],[117.4,0.4],[117.7,0.35],[118.0,0.25],[118.4,0.15],[118.8,0.1],[116.5,0.7],[117.0,0.65],
  [121.5,0.05],[122.0,0.08],[123.0,0.1],[124.0,0.12],[124.5,0.15],[125.0,0.1],[125.6,0.35],[126.2,0.35],[127.0,0.2],[127.5,0.1],
  [128.9,0.85],[129.1,0.67],[130.7,0.54],[132.6,0.77],[132.6,0.68],[132.3,0.8],[134.5,0.28],[131.5,0.5],[133.0,0.4],
  [136.0,0.1],[136.5,0.2],[137.0,0.15],[137.5,0.25],[138.0,0.2],[138.5,0.3],[139.0,0.25],[139.5,0.2],[140.0,0.3],[140.5,0.25],
  [141.0,0.3],[141.5,0.35],[142.0,0.28],[142.5,0.25],[143.0,0.3],[143.5,0.2],[144.0,0.25],[144.5,0.3],[145.0,0.15],[145.5,0.2],
  [146.0,0.25],[146.5,0.2],[147.0,0.15],[147.5,0.1],[148.0,0.2],[148.5,0.5],[148.8,0.65],[149.0,0.85],[148.7,0.75],[146.0,0.75],
  [149.5,0.4],[149.7,0.1]
];

const bot1064 = [
  [0.33,0.51],[0.9,0.68],[1.3,0.57],[0.43,0.34],[1.1,0.28],[1.5,0.42],[1.8,0.36],[1.2,0.45],[1.6,0.21],[2.0,0.05],
  [5.0,0.15],[4.9,0.04],[8.6,0.85],
  [8.5,0.1],[8.8,0.05],[9.1,0.12],[9.4,0.08],[9.7,0.03],[10.0,0.1],[10.3,0.06],[10.6,0.02],[10.9,0.08],[9.2,0.18],[9.9,0.15],
  [13.7,1.51],[16.4,1.82],[17.0,1.08],[18.9,0.94],[15.6,0.7],[14.5,0.53],
  [15.2,0.25],[15.5,0.2],[15.8,0.3],[16.1,0.15],[16.4,0.35],[16.7,0.28],[17.0,0.25],[17.3,0.12],[17.6,0.18],[17.9,0.1],
  [18.2,0.2],[18.5,0.3],[18.8,0.4],[19.1,0.28],[19.4,0.45],[19.7,0.15],[20.0,0.08],[15.3,0.02],[20.3,0.03],[21.0,0.55],
  [21.5,0.4],[21.8,0.45],
  [27.4,2.32],[38.0,2.79],[33.5,1.77],
  [24.2,0.1],[24.5,0.15],[24.8,0.2],[25.1,0.25],[25.4,0.15],[25.7,0.2],[26.0,0.28],[26.3,0.3],[26.6,0.22],[26.9,0.15],
  [27.2,0.18],[27.5,0.2],[27.8,0.28],[28.1,0.32],[28.4,0.45],[28.7,0.55],[29.0,0.6],[29.3,0.5],[29.6,0.38],[29.9,0.25],
  [30.2,0.12],[30.5,0.05],[30.8,0.08],[31.1,0.15],[31.4,0.2],[31.7,0.1],[32.0,0.25],[32.3,0.15],[32.6,0.3],[32.9,0.2],
  [33.2,0.1],[33.6,0.05],[34.0,0.02],[34.3,0.12],[34.6,0.25],[34.9,0.35],[35.2,0.55],[35.4,0.75],[35.6,0.95],[35.8,0.85],
  [36.0,0.65],[36.3,0.55],[36.6,0.45],[36.9,0.4],[37.2,0.35],[37.5,0.3],[37.8,0.25],[38.1,0.2],[38.4,0.3],[38.7,0.4],
  [39.0,0.35],[39.3,0.3],[39.6,0.38],[39.9,0.28],[40.2,0.35],[40.5,0.32],[40.8,0.25],[41.1,0.4],[41.4,0.3],[41.7,0.2],
  [42.0,0.1],[35.3,0.95],[36.1,0.75],
  [40.3,0.53],[39.6,0.48],[45.8,0.56],[46.0,0.27],[46.1,0.07],[50.8,0.33],
  [71.9,3.44],[76.1,2.47],[71.8,2.09],[57.6,2.69],[62.8,1.76],[79.5,1.63],[82.8,1.32],[86.2,1.03],[85.8,0.96],[76.3,0.92],
  [79.5,0.74],[59.8,1.12],[60.1,0.99],[58.0,0.96],[58.2,0.79],[58.1,0.67],[57.9,0.41],[57.5,0.09],[59.9,0.22],[61.8,0.15],
  [51.1,0.33],[51.5,0.09],[53.6,0.18],[53.5,0.02],
  [62.6,0.55],[62.9,0.65],[63.2,0.45],[63.5,0.4],[63.8,0.7],[64.1,0.5],[64.4,0.6],[64.7,0.35],[65.0,0.45],[65.3,0.3],
  [65.6,0.25],[65.9,0.28],[66.2,0.2],[63.9,1.05],[64.4,1.0],[65.6,1.15],[65.8,1.2],[66.0,0.35],[63.0,0.8],
  [68.9,0.1],[69.1,0.3],[69.3,0.45],[69.5,0.55],[69.7,0.5],[69.9,0.42],[70.1,0.48],[70.3,0.4],[70.6,0.35],[70.9,0.4],
  [71.2,0.33],[71.5,0.35],[71.8,0.3],[72.1,0.38],[72.4,0.3],[72.7,0.35],[73.0,0.25],[73.3,0.3],[73.6,0.4],[73.9,0.55],
  [74.2,0.6],[74.5,0.5],[73.4,0.1],[73.8,0.05],[74.7,0.15],[72.9,0.75],[74.0,0.7],
  [75.8,0.3],[76.1,0.45],[76.4,0.55],[76.7,0.6],[77.0,0.5],[77.3,0.55],[77.6,0.45],[77.9,0.5],[78.2,0.58],[78.5,0.5],
  [78.8,0.4],[79.1,0.5],[77.5,0.1],[78.0,0.3],
  [81.7,0.01],[85.8,0.02],[86.1,0.25],[86.2,0.4],
  [90.2,0.45],[90.4,0.4],[90.6,0.55],[90.8,0.5],[91.0,0.35],[91.3,0.3],[91.6,0.2],[91.9,0.1],[92.2,0.15],[92.5,0.25],
  [92.7,0.4],[93.0,0.5],[93.3,0.15],[91.0,0.65],[92.9,0.55],[93.2,0.1],
  [95.8,0.45],[96.0,0.65],[96.3,0.5],[96.6,0.4],[96.9,0.45],[97.2,0.35],[97.5,0.42],[97.8,0.32],[98.1,0.38],[98.4,0.3],
  [98.7,0.28],[99.0,0.3],[99.3,0.22],[99.6,0.25],[99.9,0.2],[100.2,0.18],[100.5,0.15],[100.8,0.12],[96.0,0.1],[95.9,0.2],
  [126.4,2.14],[149.1,1.29],[132.5,1.31],[132.3,1.17],[132.5,1.03],[128.7,1.09],[128.7,0.94],[130.8,0.92],[130.7,0.79],
  [129.8,0.82],[128.7,0.76],[128.8,0.65],[128.9,0.56],[128.7,0.48],[129.8,0.38],[131.1,0.33],[134.2,0.76],[133.9,0.7],
  [135.0,0.6],[133.6,0.53],[132.4,0.41],[133.0,0.44],[134.5,0.42],[133.5,0.31],[147.7,0.39],[149.6,0.24],[129.3,0.21],
  [129.4,0.09],[133.3,0.09],[115.8,0.28],
  [100.2,0.25],[100.5,0.2],[100.8,0.15],[101.1,0.22],[101.4,0.18],[101.7,0.2],[102.0,0.15],[102.3,0.25],[102.6,0.18],
  [102.9,0.2],[103.2,0.15],[103.5,0.12],[103.8,0.18],[104.1,0.1],[104.4,0.08],[104.7,0.12],[105.0,0.05],[105.3,0.1],
  [105.6,0.15],[105.9,0.12],[106.2,0.08],[106.5,0.12],[106.8,0.1],[107.1,0.05],[107.4,0.08],[107.7,0.15],[108.0,0.2],
  [108.3,0.12],[108.6,0.1],[108.9,0.05],[109.2,0.08],[109.5,0.04],[109.8,0.02],
  [110.6,0.02],[111.0,0.05],[111.4,0.08],[111.8,0.04],[112.2,0.1],[112.6,0.06],[113.0,0.1],[113.4,0.08],[113.8,0.12],
  [114.2,0.15],[114.6,0.1],[115.0,0.18],[115.4,0.22],[115.8,0.15],[116.2,0.2],[116.6,0.12],[117.0,0.18],[117.4,0.1],
  [117.8,0.06],[118.2,0.12],[118.6,0.05],[119.0,0.08],[119.4,0.03],[119.8,0.02],[120.2,0.04],
  [121.6,0.03],[122.0,0.05],[122.4,0.08],[122.8,0.04],[123.2,0.06],[123.6,0.08],[124.0,0.05],[124.4,0.07],[124.8,0.04],
  [125.2,0.06],[125.6,0.08],[126.0,0.05],[126.4,0.06],[126.8,0.03],[127.2,0.05],[127.6,0.08],[128.0,0.04],
  [134.8,0.1],[135.2,0.12],[135.6,0.05],[136.0,0.1],[136.4,0.15],[136.8,0.12],[137.2,0.08],[137.6,0.1],[138.0,0.14],
  [138.4,0.1],[138.8,0.12],[139.2,0.08],[139.6,0.1],[140.0,0.13],[140.4,0.09],[140.8,0.12],[141.2,0.1],[141.6,0.07],
  [142.0,0.11],[142.4,0.09],[142.8,0.12],[143.2,0.08],[143.6,0.1],[144.0,0.06],[144.4,0.1],[144.8,0.08],[145.2,0.11],
  [145.6,0.09],[146.0,0.06],[146.4,0.1],[146.8,0.15],[147.2,0.12],[147.6,0.2],[148.0,0.15],[148.4,0.18],[148.8,0.1],
  [149.2,0.25],[149.6,0.15],[149.9,0.05],[132.0,0.02],[132.3,0.1],[133.2,0.15],[131.5,0.0]
];

const colors = ['#8a2be2', '#32cd32', '#ff8c00'];
const width = 2746, height = 1271;
const plotLeft = 93.7, plotRight = 2652, plotHeight = 436.7;

const svg = d3.select('#chart').append('svg')
  .attr('width', width)
  .attr('height', height);

svg.append('rect').attr('width', width).attr('height', height).attr('fill', '#fff');

svg.append('text')
  .attr('x', 1331)
  .attr('y', 33)
  .attr('text-anchor', 'middle')
  .attr('font-size', 24)
  .attr('fill', '#000')
  .style('white-space', 'pre')
  .text(title);

const x = d3.scaleLinear().domain([0, 150]).range([plotLeft, plotRight]);
const star = d3.symbol().type(d3.symbolStar).size(78);

function drawPanel(top, series, times, coords, id, withLegend) {
  const bottom = top + plotHeight;
  const y = d3.scaleLinear().domain([0, 4]).range([bottom, top]);
  const g = svg.append('g');

  g.append('clipPath').attr('id', id)
    .append('rect')
    .attr('x', plotLeft).attr('y', top)
    .attr('width', plotRight - plotLeft).attr('height', plotHeight);

  const marks = g.append('g').attr('clip-path', `url(#${id})`);
  series.forEach((data, k) => {
    marks.append('g').selectAll('path')
      .data(data)
      .enter()
      .append('path')
      .attr('d', star)
      .attr('transform', d => `translate(${x(d[0])},${y(d[1])})`)
      .attr('fill', colors[k])
      .attr('stroke', colors[k])
      .attr('stroke-width', 1.3)
      .attr('stroke-linejoin', 'round')
      .attr('opacity', 0.82);
  });

  const yAxis = g.append('g')
    .attr('transform', `translate(${plotLeft},0)`)
    .call(d3.axisLeft(y).tickValues(yTicks).tickFormat(d3.format('.1f')).tickSize(6.3).tickPadding(8.5));

  const xAxis = g.append('g')
    .attr('transform', `translate(0,${bottom})`)
    .call(d3.axisBottom(x).tickValues(tickMinutes).tickSize(6.3));

  [yAxis, xAxis].forEach(a => {
    a.select('.domain').remove();
    a.attr('font-size', 16).attr('font-family', '"DejaVu Sans", sans-serif');
    a.selectAll('.tick line').attr('stroke', '#000').attr('stroke-width', 1.3);
    a.selectAll('.tick text').attr('fill', '#000');
  });

  xAxis.selectAll('.tick text').each(function (d, i) {
    const t = d3.select(this).text(null).attr('dy', null).attr('y', null);
    t.append('tspan').attr('x', 0).attr('y', 28.8).text(times[i]);
    t.append('tspan').attr('x', 0).attr('y', 48.8).text(coords[i]);
  });

  g.append('rect')
    .attr('x', plotLeft).attr('y', top)
    .attr('width', plotRight - plotLeft).attr('height', plotHeight)
    .attr('fill', 'none')
    .attr('stroke', '#000')
    .attr('stroke-width', 1.6);

  g.append('text')
    .attr('transform', `translate(38.5,${top + plotHeight / 2}) rotate(-90)`)
    .attr('text-anchor', 'middle')
    .attr('font-size', 16)
    .text('Column Optical Depth');

  if (withLegend) {
    const legend = g.append('g');
    wavelengths.forEach((label, k) => {
      const ly = 185.7 + k * 26.5;
      legend.append('path')
        .attr('d', d3.symbol().type(d3.symbolStar).size(86)())
        .attr('transform', `translate(2505,${ly})`)
        .attr('fill', colors[k])
        .attr('stroke', colors[k])
        .attr('stroke-width', 1.2);
      legend.append('text')
        .attr('x', 2535)
        .attr('y', ly + 6)
        .attr('font-size', 16)
        .style('white-space', 'pre')
        .text(label);
    });
  }
}

drawPanel(163.3, [top355, top532, top1064], topTimes, topCoords, 'clipTop', true);
drawPanel(766, [bot355, bot532, bot1064], botTimes, botCoords, 'clipBot', false);
</script>
</body>
</html>
